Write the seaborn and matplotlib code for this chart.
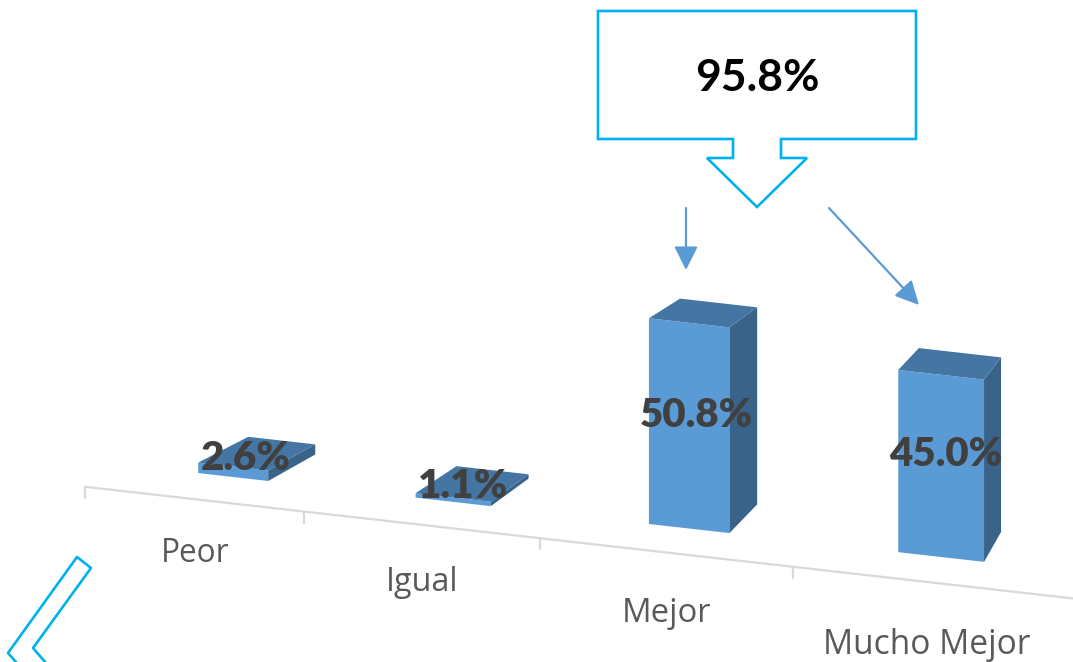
import numpy as np
import pandas as pd
import matplotlib
matplotlib.use("Agg")
import matplotlib.pyplot as plt
import seaborn as sns
from matplotlib.transforms import Affine2D, IdentityTransform
from matplotlib.patches import Polygon, FancyArrowPatch
from matplotlib.lines import Line2D

# ---------------- data ----------------
categories = ["Peor", "Igual", "Mejor", "Mucho Mejor"]
values = [2.6, 1.1, 50.8, 45.0]
value_labels = ["2.6%", "1.1%", "50.8%", "45.0%"]
total_label = "95.8%"

# ---------------- style ----------------
W, H = 1073, 662
FRONT = "#5B9BD5"
TOP = "#4475A3"
SIDE = "#3A6389"
CALLOUT = "#00B0F0"
ARROW = "#5B9BD5"
AXIS = "#D9D9D9"
LABEL = "#595959"
VALUE = "#404040"

sns.set_theme(style="white")
plt.rcParams["font.family"] = ["Open Sans", "DejaVu Sans"]

fig = plt.figure(figsize=(W / 100, H / 100), dpi=100)
fig.patch.set_facecolor("white")

# mild perspective along x through a function scale
C = 0.0377
def fwd(x):
    x = np.asarray(x, float)
    return x + C * x ** 2
def inv(u):
    u = np.asarray(u, float)
    return (-1 + np.sqrt(np.maximum(1 + 4 * C * u, 0))) / (2 * C)

PX = 212.0          # pixels per scaled unit
X_C0 = 233.0        # pixel x of first category centre
LO, HI = -0.8, 3.45
SLOPE = 0.113       # floor tilt
BASE_IMG_Y = 477.0  # image y of bar bottoms at first centre
PX_PER_PCT = 4.05
YMAX = 100

left = X_C0 + PX * float(fwd(LO))
width = PX * float(fwd(HI) - fwd(LO))
base_img_left = BASE_IMG_Y - SLOPE * (X_C0 - left)
bottom = H - base_img_left
height = PX_PER_PCT * YMAX
ax = fig.add_axes([left / W, bottom / H, width / W, height / H])

df = pd.DataFrame({"cat": categories, "val": values})
sns.barplot(data=df, x="cat", y="val", ax=ax, color=FRONT, saturation=1,
            width=0.33, linewidth=0, edgecolor="none")
ax.set_xscale("function", functions=(fwd, inv))
ax.set_xlim(LO, HI)
ax.set_ylim(0, YMAX)
ax.set_autoscale_on(False)
ax.axis("off")

skew = Affine2D().translate(-left, -bottom).skew(0, np.arctan(-SLOPE)).translate(left, bottom)
trans = ax.transData + skew

VP = np.array([1389.0, H + 150.0])   # vanishing point (display coords)
DEPTH = 0.042
def back(p):
    p = np.asarray(p, float)
    return p + DEPTH * (VP - p)

bars = list(ax.patches)
w0 = None
for p, lab, cat in zip(bars, value_labels, categories):
    p.set_transform(trans)
    p.set_clip_on(False)
    p.set_zorder(2)
    v = p.get_transform().transform(p.get_path().vertices)
    bl, br, tr, tl = v[0], v[1], v[2], v[3]
    side = Polygon([br, tr, back(tr), back(br)], closed=True,
                   transform=IdentityTransform(), facecolor=SIDE,
                   edgecolor="none", zorder=2)
    top = Polygon([tl, tr, back(tr), back(tl)], closed=True,
                  transform=IdentityTransform(), facecolor=TOP,
                  edgecolor="none", zorder=2)
    for poly in (side, top):
        ax.add_artist(poly)
        poly.set_clip_on(False)

    fc_x = (bl[0] + br[0]) / 2
    bot_y = (bl[1] + br[1]) / 2
    top_y = (tl[1] + tr[1]) / 2
    d = back([fc_x, top_y]) - np.array([fc_x, top_y])
    lx = fc_x + 0.25 * d[0]
    ly = (bot_y + top_y) / 2 + 0.5 * d[1]
    t = ax.text(lx, ly, lab, transform=IdentityTransform(), ha="center",
                va="center", fontsize=29, fontweight="heavy",
                family=["Lato", "DejaVu Sans"], color=VALUE, zorder=5)
    t.set_clip_on(False)

    # category label, brought forward in perspective
    w_front = br[0] - bl[0]
    if w0 is None:
        w0 = w_front
    k = w_front / w0
    bc = np.array([fc_x, bot_y])
    fp = bc - 0.033 * (VP - bc)
    t2 = ax.text(fp[0], fp[1] - 64 * k ** 0.7, cat, transform=IdentityTransform(),
                 ha="center", va="baseline",
                 fontsize=22.7 * k ** 0.3,
                 color=LABEL, zorder=5)
    t2.set_clip_on(False)

# floor front edge (axis line) with ticks
G = 0.035
pts = []
for i in range(len(categories)):
    b = trans.transform([(i - 0.5, 0)])[0]
    pts.append(b - G * (VP - b))
pts = np.array(pts)
x_end = W + 5
y_end = pts[0][1] - SLOPE * (x_end - pts[0][0])
axis_line = Line2D([pts[0][0], x_end], [pts[0][1], y_end],
                   transform=IdentityTransform(), color=AXIS, lw=1.6, zorder=1)
ax.add_artist(axis_line)
axis_line.set_clip_on(False)
for px_, py_ in pts:
    tk = Line2D([px_, px_], [py_, py_ - 11], transform=IdentityTransform(),
                color=AXIS, lw=1.6, zorder=1)
    ax.add_artist(tk)
    tk.set_clip_on(False)

# ---------------- callout ----------------
def img(pts_):
    return [(x, H - y) for x, y in pts_]

callout_pts = img([(598, 11), (916, 11), (916, 139), (781, 139), (781, 158),
                   (807, 158), (757, 207), (707, 158), (733, 158), (733, 139),
                   (598, 139)])
callout = Polygon(callout_pts, closed=True, transform=IdentityTransform(),
                  facecolor="white", edgecolor=CALLOUT, lw=1.9, zorder=3)
fig.add_artist(callout)
fig.text(757 / W, 1 - 78 / H, total_label, ha="center", va="center",
         fontsize=32, fontweight="bold", family=["Lato", "DejaVu Sans"],
         color="black", zorder=4)

# arrows
for (x1, y1), (x2, y2) in [((686, 208), (686, 270)), ((829, 208), (919, 305))]:
    arr = FancyArrowPatch((x1, H - y1), (x2, H - y2), transform=IdentityTransform(),
                          arrowstyle="-|>,head_length=1.2,head_width=0.6",
                          mutation_scale=12, color=ARROW, lw=1.6,
                          shrinkA=0, shrinkB=0, zorder=3)
    fig.add_artist(arr)

# partial chevron bottom-left
chev = img([(23, 670), (8, 653), (77, 557), (91, 568), (33, 648), (52, 670)])
fig.add_artist(Line2D([p[0] for p in chev], [p[1] for p in chev],
                      transform=IdentityTransform(), color=CALLOUT, lw=1.9,
                      zorder=3))

fig.savefig("out.png", dpi=100, facecolor="white")
